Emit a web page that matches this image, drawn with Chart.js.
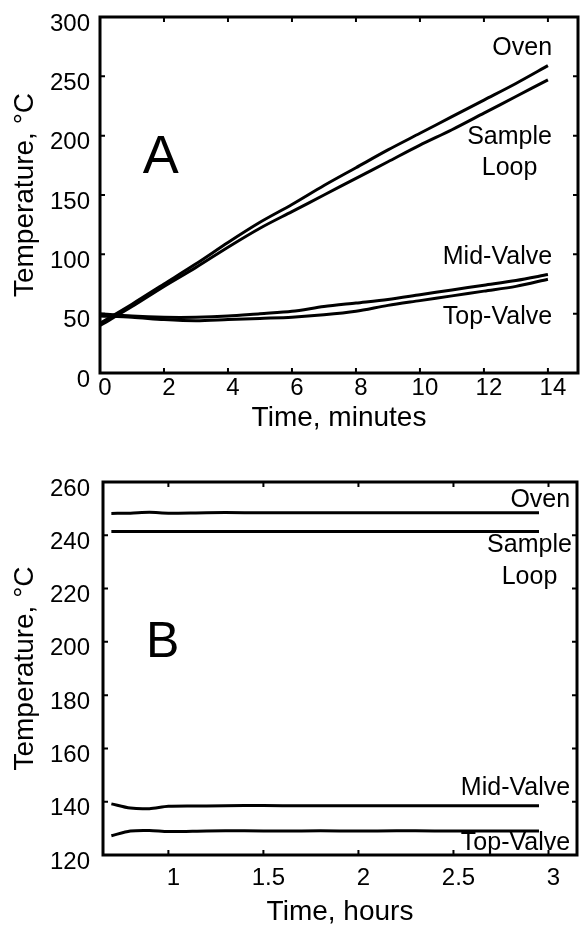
<!DOCTYPE html>
<html>
<head>
<meta charset="utf-8">
<script src="https://cdn.jsdelivr.net/npm/chart.js@4/dist/chart.umd.min.js"></script>
<style>
  body { margin: 0; background: #fff; }
  #wrapA { position: absolute; left: 0; top: 0; }
  #wrapB { position: absolute; left: 0; top: 440px; }
</style>
</head>
<body>
<div id="wrapA"><canvas id="chartA" width="580" height="440"></canvas></div>
<div id="wrapB"><canvas id="chartB" width="580" height="486"></canvas></div>
<script>
// panel A : heating ramp
const minutes = [0, 1, 2, 3, 4, 5, 6, 7, 8, 9, 10, 11, 12, 13, 14];
const ovenA = [42, 58, 75, 92, 110, 127, 142, 158, 173, 188, 202, 216, 230, 244, 259];
const loopA = [40, 56, 73, 89, 106, 122, 136, 150, 164, 178, 192, 205, 219, 233, 247];
const midA = [50, 48, 47, 47, 48, 50, 52, 56, 59, 62, 66, 70, 74, 78, 83];
const topA = [48, 47, 45, 44, 45, 46, 47, 49, 52, 57, 61, 65, 69, 73, 79];
const minuteTicks = [0, 2, 4, 6, 8, 10, 12, 14];
const tempTicksA = [0, 50, 100, 150, 200, 250, 300];

// panel B : holding at temperature
const hours = [0.7, 0.8, 0.9, 1.0, 1.2, 1.4, 1.6, 1.8, 2.0, 2.2, 2.4, 2.6, 2.8, 2.95];
const ovenB = [248.2, 248.3, 248.6, 248.3, 248.5, 248.5, 248.5, 248.5, 248.5, 248.5, 248.5, 248.5, 248.5, 248.5];
const loopB = [241.4, 241.4, 241.4, 241.4, 241.4, 241.4, 241.4, 241.4, 241.4, 241.4, 241.4, 241.4, 241.4, 241.4];
const midB = [139.2, 137.6, 137.4, 138.3, 138.4, 138.6, 138.5, 138.5, 138.5, 138.5, 138.5, 138.5, 138.5, 138.5];
const topB = [127.2, 129.0, 129.2, 128.8, 129.0, 129.1, 129.0, 129.1, 129.0, 129.1, 129.0, 129.0, 129.0, 129.0];
const hourTicks = [1, 1.5, 2, 2.5, 3];
const tempTicksB = [120, 140, 160, 180, 200, 220, 240, 260];

const FONT = "'Liberation Sans', Arial, Helvetica, sans-serif";

function pts(xs, ys) {
  return ys.map((v, i) => ({x: xs[i], y: v}));
}

function line(data) {
  return {
    data: data,
    borderColor: '#000',
    borderWidth: 3,
    pointRadius: 0,
    tension: 0.3,
    fill: false
  };
}

// box, inside tick marks, curve names and the panel letter
const framePlugin = {
  id: 'frame',
  afterDraw(chart, args, opts) {
    const {ctx, chartArea: a} = chart;
    const x = chart.scales.x, y = chart.scales.y;
    ctx.save();
    ctx.strokeStyle = '#000';
    ctx.lineWidth = 3;
    ctx.strokeRect(a.left, a.top, a.right - a.left, a.bottom - a.top);
    ctx.lineWidth = 2;
    ctx.beginPath();
    x.ticks.forEach(t => {
      const px = x.getPixelForValue(t.value);
      ctx.moveTo(px, a.bottom); ctx.lineTo(px, a.bottom - 5);
      ctx.moveTo(px, a.top); ctx.lineTo(px, a.top + 5);
    });
    y.ticks.forEach(t => {
      const py = y.getPixelForValue(t.value);
      ctx.moveTo(a.left, py); ctx.lineTo(a.left + 5, py);
      ctx.moveTo(a.right, py); ctx.lineTo(a.right - 5, py);
    });
    ctx.stroke();

    ctx.fillStyle = '#000';
    ctx.textBaseline = 'middle';
    ctx.font = '25px ' + FONT;
    opts.notes.forEach(n => {
      ctx.textAlign = n.align;
      ctx.fillText(n.text, x.getPixelForValue(n.x), y.getPixelForValue(n.y));
    });
    ctx.textAlign = 'center';
    ctx.font = opts.letter.size + 'px ' + FONT;
    ctx.fillText(opts.letter.text, x.getPixelForValue(opts.letter.x), y.getPixelForValue(opts.letter.y));
    ctx.restore();
  }
};

function makeChart(id, cfg) {
  return new Chart(document.getElementById(id), {
    type: 'line',
    data: {datasets: cfg.series.map(s => line(s))},
    plugins: [framePlugin],
    options: {
      responsive: false,
      animation: false,
      devicePixelRatio: 1,
      layout: {padding: cfg.padding},
      plugins: {
        legend: {display: false},
        tooltip: {enabled: false},
        frame: {notes: cfg.notes, letter: cfg.letter}
      },
      scales: {
        x: {
          type: 'linear',
          min: cfg.xMin,
          max: cfg.xMax,
          afterBuildTicks: s => { s.ticks = cfg.xTicks.map(v => ({value: v})); },
          afterFit: s => { s.height = cfg.xHeight; s.paddingLeft = 0; s.paddingRight = 0; },
          grid: {display: false, drawTicks: false, tickLength: 0},
          border: {display: false},
          ticks: {
            color: '#000',
            font: {family: FONT, size: 24},
            padding: cfg.xTickPad,
            labelOffset: 5,
            maxRotation: 0,
            autoSkip: false,
            callback: v => String(v)
          },
          title: {
            display: true,
            text: cfg.xTitle,
            color: '#000',
            font: {family: FONT, size: 28, lineHeight: 1},
            padding: {top: 0, bottom: cfg.xTitlePad}
          }
        },
        y: {
          min: cfg.yMin,
          max: cfg.yMax,
          afterBuildTicks: s => { s.ticks = cfg.yTicks.map(v => ({value: v})); },
          afterFit: s => { s.width = cfg.yWidth; s.paddingTop = 0; s.paddingBottom = 0; },
          grid: {display: false, drawTicks: false, tickLength: 0},
          border: {display: false},
          ticks: {
            color: '#000',
            font: {family: FONT, size: 24},
            padding: cfg.yTickPad,
            labelOffset: 7,
            autoSkip: false,
            callback: v => String(v)
          },
          title: {
            display: true,
            text: 'Temperature, °C',
            color: '#000',
            font: {family: FONT, size: 28, lineHeight: 1},
            padding: {top: 11, bottom: 0}
          }
        }
      }
    }
  });
}

makeChart('chartA', {
  series: [pts(minutes, ovenA), pts(minutes, loopA), pts(minutes, midA), pts(minutes, topA)],
  xMin: 0, xMax: 14.94, yMin: 0, yMax: 300,
  xTicks: minuteTicks, yTicks: tempTicksA,
  padding: {top: 17, right: 2, left: 0, bottom: 0},
  xHeight: 67, yWidth: 100, xTickPad: 1, yTickPad: 10, xTitlePad: 8,
  xTitle: 'Time, minutes',
  notes: [
    {text: 'Oven', x: 14.13, y: 274, align: 'right'},
    {text: 'Sample', x: 12.8, y: 199, align: 'center'},
    {text: 'Loop', x: 12.8, y: 173, align: 'center'},
    {text: 'Mid-Valve', x: 14.13, y: 98, align: 'right'},
    {text: 'Top-Valve', x: 14.13, y: 47.5, align: 'right'}
  ],
  letter: {text: 'A', x: 1.9, y: 181, size: 54}
});

makeChart('chartB', {
  series: [pts(hours, ovenB), pts(hours, loopB), pts(hours, midB), pts(hours, topB)],
  xMin: 0.656, xMax: 3.15, yMin: 120, yMax: 260,
  xTicks: hourTicks, yTicks: tempTicksB,
  padding: {top: 42, right: 3, left: 0, bottom: 0},
  xHeight: 71, yWidth: 103, xTickPad: 9, yTickPad: 13, xTitlePad: 0,
  xTitle: 'Time, hours',
  notes: [
    {text: 'Oven', x: 3.114, y: 253.2, align: 'right'},
    {text: 'Sample', x: 2.9, y: 236.4, align: 'center'},
    {text: 'Loop', x: 2.9, y: 224.3, align: 'center'},
    {text: 'Mid-Valve', x: 3.114, y: 145.1, align: 'right'},
    {text: 'Top-Valve', x: 3.114, y: 124.5, align: 'right'}
  ],
  letter: {text: 'B', x: 0.97, y: 199.6, size: 50}
});
</script>
</body>
</html>
